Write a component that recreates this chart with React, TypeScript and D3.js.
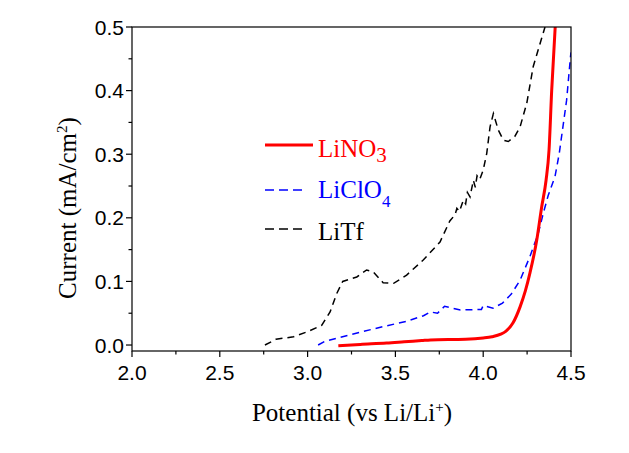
import React from "react";
import * as d3 from "d3";

const xTicks = [2.0, 2.5, 3.0, 3.5, 4.0, 4.5];
const yTicks = [0.0, 0.1, 0.2, 0.3, 0.4, 0.5];

const linoX = [3.175, 3.3, 3.45, 3.55, 3.65, 3.7, 3.9, 4.0, 4.05, 4.1, 4.13, 4.17, 4.21, 4.24, 4.266, 4.305, 4.333, 4.358, 4.375, 4.39, 4.41];
const linoY = [-0.001, 0.001, 0.003, 0.005, 0.007, 0.008, 0.009, 0.011, 0.013, 0.017, 0.022, 0.035, 0.06, 0.085, 0.113, 0.165, 0.217, 0.259, 0.307, 0.4, 0.5];

const liclX = [3.06, 3.1, 3.24, 3.43, 3.56, 3.66, 3.7, 3.74, 3.78, 3.87, 3.98, 3.99, 4.0, 4.056, 4.11, 4.16, 4.21, 4.266, 4.314, 4.342, 4.37, 4.409, 4.433, 4.475, 4.497, 4.5];
const liclY = [0.0, 0.006, 0.016, 0.029, 0.037, 0.046, 0.052, 0.05, 0.061, 0.055, 0.056, 0.056, 0.062, 0.058, 0.066, 0.08, 0.102, 0.139, 0.176, 0.207, 0.235, 0.265, 0.301, 0.385, 0.453, 0.46];

const litfX = [2.757, 2.82, 2.92, 3.0, 3.08, 3.128, 3.166, 3.2, 3.28, 3.336, 3.374, 3.43, 3.49, 3.564, 3.66, 3.754, 3.81, 3.84, 3.85, 3.865, 3.887, 3.9, 3.91, 3.925, 3.944, 3.955, 3.965, 3.98, 4.0, 4.02, 4.039, 4.058, 4.086, 4.115, 4.143, 4.18, 4.21, 4.248, 4.285, 4.352];
const litfY = [0.0, 0.009, 0.013, 0.021, 0.031, 0.052, 0.081, 0.1, 0.107, 0.118, 0.115, 0.098, 0.097, 0.11, 0.134, 0.162, 0.195, 0.205, 0.215, 0.21, 0.228, 0.222, 0.24, 0.233, 0.259, 0.248, 0.266, 0.26, 0.275, 0.301, 0.343, 0.364, 0.338, 0.322, 0.32, 0.328, 0.343, 0.38, 0.438, 0.5];

const W = 629, H = 453;
const left = 132, right = 571, top = 27, bottom = 351;

export default function App() {
  const x = d3.scaleLinear().domain([2.0, 4.5]).range([left, right]);
  const y = d3.scaleLinear().domain([-0.0094, 0.5]).range([bottom, top]);
  const line = d3.line<[number, number]>().x(d => x(d[0])).y(d => y(d[1]));
  const smooth = d3.line<[number, number]>().x(d => x(d[0])).y(d => y(d[1])).curve(d3.curveMonotoneX);
  const toPts = (xs: number[], ys: number[]) => xs.map((v, i) => [v, ys[i]] as [number, number]);

  const xMinor = d3.range(2.25, 4.5, 0.5);
  const yMinor = d3.range(0.05, 0.5, 0.1);

  return (
    <svg width={W} height={H} style={{ position: "absolute", left: 0, top: 0, background: "#fff" }}>
      <defs>
        <clipPath id="clip">
          <rect x={left} y={top} width={right - left} height={bottom - top} />
        </clipPath>
      </defs>
      <g clipPath="url(#clip)" fill="none">
        <path d={line(toPts(litfX, litfY)) || ""} stroke="#000" strokeWidth={1.5} strokeDasharray="7,5" />
        <path d={line(toPts(liclX, liclY)) || ""} stroke="#0000ff" strokeWidth={1.5} strokeDasharray="7,5" />
        <path d={smooth(toPts(linoX, linoY)) || ""} stroke="#ff0000" strokeWidth={3} />
      </g>
      <rect x={left} y={top} width={right - left} height={bottom - top} fill="none" stroke="#000" strokeWidth={1.2} />
      {xTicks.map(t => (
        <g key={"xt" + t}>
          <line x1={x(t)} x2={x(t)} y1={bottom} y2={bottom + 6} stroke="#000" strokeWidth={1.2} />
          <text x={x(t)} y={380} textAnchor="middle" fontFamily="Liberation Sans, Arial, sans-serif" fontSize={21}>{t.toFixed(1)}</text>
        </g>
      ))}
      {xMinor.map(t => (
        <line key={"xm" + t} x1={x(t)} x2={x(t)} y1={bottom} y2={bottom + 3.5} stroke="#000" strokeWidth={1.2} />
      ))}
      {yTicks.map(t => (
        <g key={"yt" + t}>
          <line x1={left} x2={left - 6} y1={y(t)} y2={y(t)} stroke="#000" strokeWidth={1.2} />
          <text x={124} y={y(t) + 7.5} textAnchor="end" fontFamily="Liberation Sans, Arial, sans-serif" fontSize={21}>{t.toFixed(1)}</text>
        </g>
      ))}
      {yMinor.map(t => (
        <line key={"ym" + t} x1={left} x2={left - 3.5} y1={y(t)} y2={y(t)} stroke="#000" strokeWidth={1.2} />
      ))}
      <text x={352} y={421} textAnchor="middle" fontFamily="Liberation Serif, Times New Roman, serif" fontSize={25}>
        Potential (vs Li/Li<tspan dy={-9} fontSize={15}>+</tspan><tspan dy={9}>)</tspan>
      </text>
      <text transform="translate(76,208) rotate(-90)" textAnchor="middle" fontFamily="Liberation Serif, Times New Roman, serif" fontSize={25}>
        Current (mA/cm<tspan dy={-9} fontSize={15}>2</tspan><tspan dy={9}>)</tspan>
      </text>
      <g fontFamily="Liberation Serif, Times New Roman, serif" fontSize={25}>
        <line x1={265} x2={313} y1={145} y2={145} stroke="#ff0000" strokeWidth={3} />
        <text x={318} y={157} fill="#ff0000">LiNO<tspan dy={5} fontSize={21}>3</tspan></text>
        <line x1={265} x2={303} y1={190} y2={190} stroke="#0000ff" strokeWidth={1.5} strokeDasharray="9,5" />
        <text x={318} y={198} fill="#0000ff">LiClO<tspan dy={9} fontSize={17}>4</tspan></text>
        <line x1={265} x2={303} y1={229} y2={229} stroke="#000" strokeWidth={1.5} strokeDasharray="9,5" />
        <text x={318} y={240} fill="#000">LiTf</text>
      </g>
    </svg>
  );
}
